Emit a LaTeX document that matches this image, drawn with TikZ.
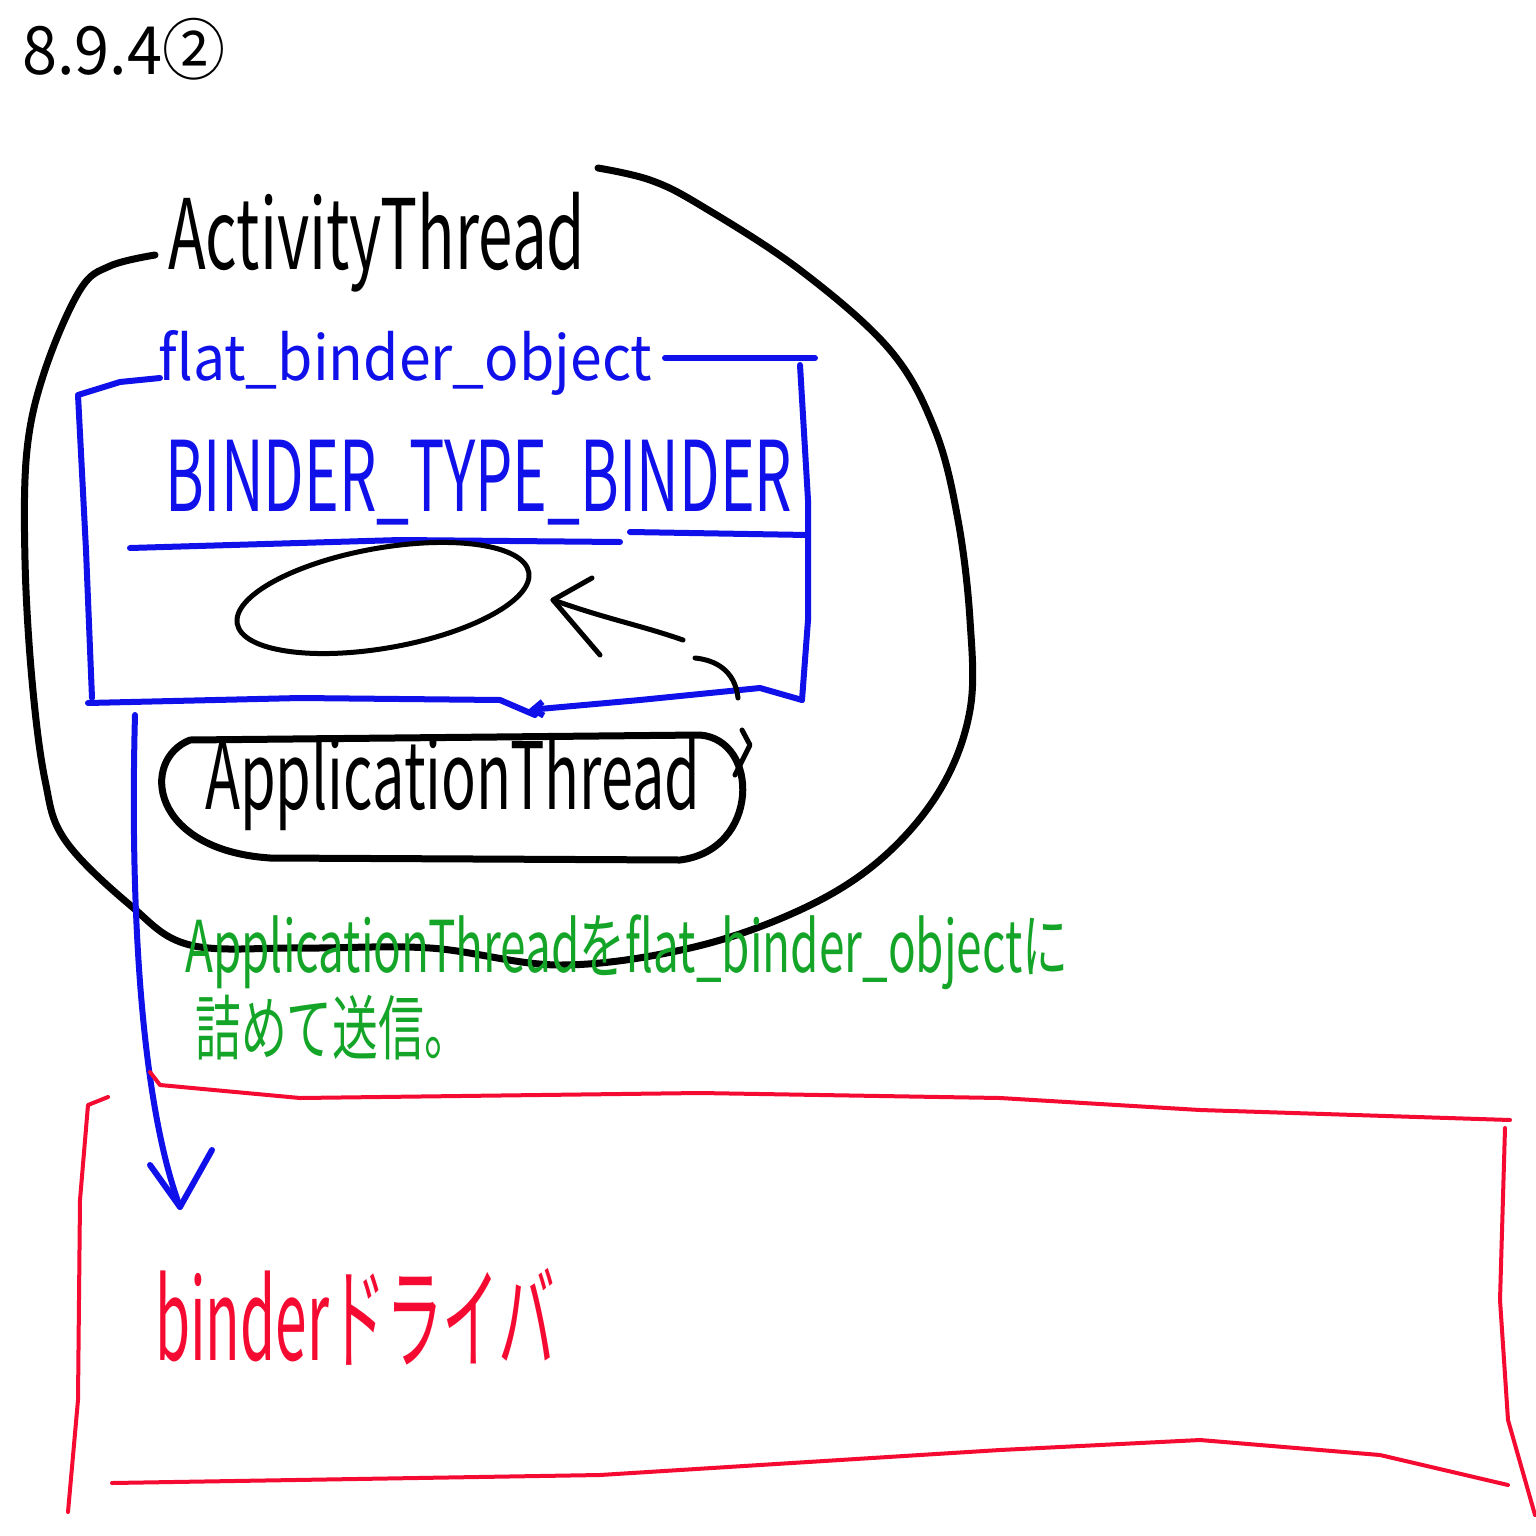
\documentclass[tikz,border=0pt]{standalone}
\usepackage{fontspec}
\usepackage{graphicx}
\setmainfont{Noto Sans CJK JP}
\usetikzlibrary{arrows.meta}
\definecolor{pblue}{RGB}{16,16,235}
\definecolor{pgreen}{RGB}{20,165,40}
\definecolor{pred}{RGB}{245,10,50}
\newcommand{\fitbox}[3]{\resizebox*{#1pt}{#2pt}{#3}}
\tikzset{
  blk/.style={draw=black,line width=7pt,line cap=round,line join=round},
  blu/.style={draw=pblue,line width=6pt,line cap=round,line join=round},
  rd/.style={draw=pred,line width=4pt,line cap=round,line join=round},
  lbl/.style={inner sep=0pt,anchor=north west},
}
\begin{document}
\begin{tikzpicture}[x=1pt,y=-1pt]
\useasboundingbox[fill=white] (0,0) rectangle (1536,1536);
% title
\node[lbl] (title) at (22,18) {\fitbox{203}{62}{8.9.4②}};
% ActivityThread blob
\draw[blk] plot[smooth,tension=0.6] coordinates {(155,255) (110,266) (80,290) (45,370) (27,450) (25,560) (32,680) (45,780) (65,840) (130,905) (190,945) (300,948) (430,948) (560,965) (690,948) (800,910) (880,860) (940,790) (970,710) (970,620) (958,520) (935,430) (890,350) (800,270) (700,205) (650,180) (598,168)};
\node[lbl] (at) at (168,192) {\fitbox{417}{100}{ActivityThread}};
% blue flat_binder_object box
\draw[blu] (160,378) -- (120,382) -- (78,395) -- (86,550) -- (92,698);
\draw[blu] (665,358) -- (815,358);
\draw[blu] (800,365) -- (808,500) -- (808,620) -- (802,700);
\draw[blu] (88,703) -- (300,698) -- (500,700) -- (535,715);
\coordinate (btip) at (528,710);
\draw[blu,-{Straight Barb[length=10pt,width=14pt]}] (802,700) -- (760,688) -- (640,700) -- (btip);
\node[lbl,text=pblue] (fbo) at (158,330) {\fitbox{494}{65}{flat\_binder\_object}};
\node[lbl,text=pblue] (btb) at (165,440) {\fitbox{627}{85}{BINDER\_TYPE\_BINDER}};
\draw[blu] (130,548) -- (400,540) -- (620,542);
\draw[blu] (630,532) -- (808,535);
% inner ellipse
\draw[blk,line width=5pt] (383,598) ellipse [x radius=148, y radius=50, rotate=10];
% black arrow
\coordinate (tip) at (553,600);
\draw[blk,line width=5pt] (738,698) .. controls (735,670) and (715,660) .. (695,658);
\draw[blk,line width=5pt] (683,640) .. controls (640,625) and (610,620) .. (tip);
\draw[blk,line width=5pt] (592,578) -- (tip) -- (600,655);
% ApplicationThread
\draw[blk] (190,740) -- (700,735) .. controls (760,740) and (760,850) .. (680,860) -- (270,858) .. controls (150,850) and (140,760) .. (190,740);
\draw[blk,line width=5pt] (742,730) -- (750,745) -- (735,775);
\node[lbl] (apt) at (205,735) {\fitbox{495}{95}{ApplicationThread}};
% blue down arrow
\coordinate (dtip) at (180,1207);
\draw[blu] (135,715) .. controls (130,900) and (140,1100) .. (dtip);
\draw[blu] (150,1165) -- (dtip) -- (212,1150);
% green text
\node[lbl,text=pgreen] (g1) at (185,915) {\fitbox{883}{75}{ApplicationThreadをflat\_binder\_objectに}};
\node[lbl,text=pgreen] (g2) at (195,995) {\fitbox{275}{65}{詰めて送信。}};
% red box
\draw[rd] (150,1072) -- (160,1085) -- (300,1098) -- (700,1093) -- (1000,1098) -- (1200,1110) -- (1510,1120);
\draw[rd] (1505,1128) -- (1500,1300) -- (1508,1420) -- (1535,1515);
\draw[rd] (112,1483) -- (600,1475) -- (1000,1450) -- (1200,1440) -- (1380,1455) -- (1508,1485);
\draw[rd] (108,1097) -- (88,1105) -- (80,1200) -- (78,1400) -- (68,1512);
\node[lbl,text=pred] (bd) at (155,1268) {\fitbox{400}{97}{binderドライバ}};
\end{tikzpicture}
\end{document}
